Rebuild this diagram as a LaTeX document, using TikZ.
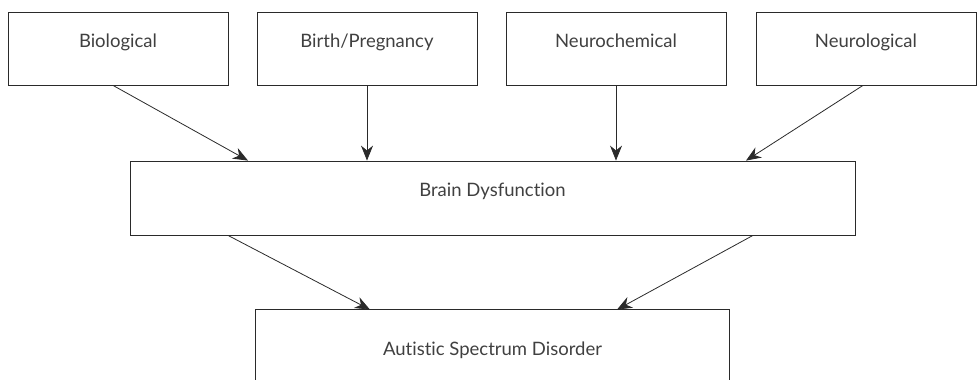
\documentclass[tikz,border=0pt]{standalone}
\usepackage{fontspec}
\setmainfont{Lato}[Ligatures={NoCommon,NoContextual}]
\usetikzlibrary{arrows.meta}
\definecolor{linec}{HTML}{2A2A2A}
\definecolor{textc}{HTML}{404040}
\begin{document}
\begin{tikzpicture}[x=1pt,y=1pt,
  box/.style={draw=linec, line width=0.8pt, minimum width=220pt, minimum height=73pt, inner sep=0pt,
    text=textc, font=\fontsize{18.5}{20}\selectfont, text height=13pt, text depth=15.6pt},
  arr/.style={draw=linec, line width=0.8pt, -{Stealth[length=15pt,width=12pt]}}]
\useasboundingbox (0,0) rectangle (978,-380);
\node[box] (bio) at (118,-48.5) {Biological};
\node[box] (bp) at (367,-48.5) {Birth/Pregnancy};
\node[box] (nc) at (616,-48.5) {Neurochemical};
\node[box] (nl) at (866,-48.5) {Neurological};
\node[box, minimum width=725pt, minimum height=74pt, text depth=16.6pt] (brain) at (492.5,-198) {Brain Dysfunction};
\node[box, draw=none, minimum width=473pt, minimum height=70pt, text height=20.4pt, text depth=0pt] (asd) at (492.5,-345) {Autistic Spectrum Disorder};
\draw[linec, line width=0.8pt] (asd.south west) -- (asd.north west) -- (asd.north east) -- (asd.south east);
\draw[arr] ([xshift=-5pt]bio.south) -- ([xshift=-244.5pt]brain.north);
\draw[arr] (bp.south) -- (bp.south |- brain.north);
\draw[arr] (nc.south) -- (nc.south |- brain.north);
\draw[arr] ([xshift=-3pt]nl.south) -- ([xshift=253.5pt]brain.north);
\draw[arr] ([xshift=-264.5pt]brain.south) -- ([xshift=-122.5pt]asd.north);
\draw[arr] ([xshift=260.5pt]brain.south) -- ([xshift=124.5pt]asd.north);
\end{tikzpicture}
\end{document}
